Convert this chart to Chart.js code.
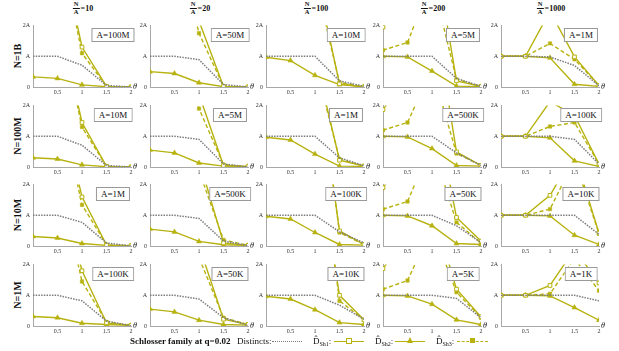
<!DOCTYPE html>
<html>
<head>
<meta charset="utf-8">
<script src="https://cdn.jsdelivr.net/npm/chart.js@4.4.1/dist/chart.umd.min.js"></script>
<style>
    html, body { margin: 0; padding: 0; background: #fff; }
    #fig { position: relative; width: 619px; height: 351px; overflow: hidden; font-family: 'Liberation Serif', 'DejaVu Serif', serif; color: #111; }
    #fig canvas { position: absolute; }
    .ttl { position: absolute; font-weight: bold; font-size: 8px; display: flex; align-items: center; transform: translateX(-50%); white-space: nowrap; }
    .frac { display: inline-flex; flex-direction: column; align-items: center; font-size: 6.5px; line-height: 6.5px; margin-right: 1px; }
    .frac span:first-child { border-bottom: 0.8px solid #111; padding: 0 1px; }
    .rowlbl { position: absolute; font-weight: bold; font-size: 10px; transform: translate(-50%, -50%) rotate(-90deg); white-space: nowrap; }
    .box { position: absolute; transform: translateX(-50%); background: #fff; border: 1.5px solid #999; font-size: 9px; line-height: 12px; padding: 0 4px; white-space: nowrap; }
    .theta { position: absolute; font-style: italic; font-size: 8px; line-height: 8px; }
    .lg { position: absolute; top: 336px; font-size: 9px; line-height: 10px; white-space: nowrap; }
    .lg sub { font-size: 6px; vertical-align: -2px; }
    .smp { position: absolute; top: 341px; height: 0; }
    .mk { position: absolute; box-sizing: border-box; }
</style>
</head>
<body>
<div id="fig"></div>
<script>
'use strict';

const theta = [0, 0.5, 1, 1.5, 2];
const xTicks = [0.5, 1, 1.5, 2];
const yTickLabels = ['0', 'A', '2A'];
const colRatios = ['10', '20', '100', '200', '1000'];
const rowNames = ['N=1B', 'N=100M', 'N=10M', 'N=1M'];
const sizeLabels = [
    ['A=100M', 'A=50M', 'A=10M', 'A=5M', 'A=1M'],
    ['A=10M', 'A=5M', 'A=1M', 'A=500K', 'A=100K'],
    ['A=1M', 'A=500K', 'A=100K', 'A=50K', 'A=10K'],
    ['A=100K', 'A=50K', 'A=10K', 'A=5K', 'A=1K'],
];

// values in units of A, one row per N, one array per N/A column
const distincts = [
    [[1, 1, 0.71, 0.05, 0], [1, 1, 0.89, 0.08, 0], [1, 1, 1, 0.2, 0.02], [1, 1, 1, 0.28, 0.02], [1, 1, 0.98, 0.7, 0.04]],
    [[1, 1, 0.71, 0.05, 0], [1, 1, 0.9, 0.1, 0], [1, 1, 1, 0.3, 0.04], [1, 1, 1, 0.46, 0.05], [1, 1, 1, 0.9, 0.1]],
    [[1, 1, 0.77, 0.1, 0], [1, 1, 0.9, 0.16, 0.01], [1, 1, 1, 0.46, 0.1], [1, 1, 1, 0.66, 0.11], [1, 1, 1, 1, 0.38]],
    [[1, 1, 0.82, 0.16, 0.01], [1, 1, 0.88, 0.27, 0.02], [1, 1, 1, 0.68, 0.22], [1, 1, 1, 0.9, 0.27], [1, 1, 1, 1, 0.82]],
];
const sh1 = [
    [[9, 5, 1.3, 0.02, 0], [10, 6, 2.15, 0.02, 0], [12, 8, 3.8, 0.1, 0], [1.95, 3, 5, 0.2, 0.02], [1, 1, 2.47, 0.98, 0.05]],
    [[9, 5, 1.45, 0.02, 0], [10, 6, 2.37, 0.05, 0.01], [12, 8, 3.6, 0.22, 0.03], [1.87, 3, 5.5, 0.49, 0.05], [1, 1, 2.13, 1.68, 0.1]],
    [[9, 5, 1.6, 0.03, 0.01], [10, 6, 2.8, 0.1, 0.02], [14, 10, 6.3, 0.49, 0.05], [1.9, 3, 5, 0.93, 0.16], [1, 1, 1.65, 3, 0.42]],
    [[9, 5, 1.8, 0.1, 0.02], [10, 6, 2.62, 0.22, 0.05], [14, 10, 6, 1.0, 0.2], [1.87, 3, 3.9, 1.2, 0.3], [1, 1, 1.32, 2.5, 1.4]],
];
const sh2 = [
    [[0.33, 0.28, 0.07, 0.01, 0], [0.5, 0.44, 0.14, 0.01, 0], [0.97, 0.86, 0.38, 0.08, 0.01], [1, 0.98, 0.52, 0.03, 0.01], [1, 1, 0.95, 0.09, 0.02]],
    [[0.3, 0.26, 0.07, 0.01, 0], [0.55, 0.46, 0.13, 0.03, 0.02], [0.97, 0.88, 0.42, 0.03, 0.02], [1, 0.98, 0.6, 0.05, 0.03], [1, 1, 0.95, 0.2, 0.02]],
    [[0.31, 0.26, 0.08, 0.02, 0.01], [0.55, 0.46, 0.15, 0.04, 0.02], [0.97, 0.88, 0.44, 0.05, 0.03], [1, 0.98, 0.66, 0.08, 0.05], [1, 1, 0.98, 0.35, 0.05]],
    [[0.31, 0.27, 0.09, 0.05, 0.02], [0.55, 0.46, 0.19, 0.05, 0.03], [0.97, 0.88, 0.53, 0.11, 0.05], [1, 0.98, 0.71, 0.2, 0.05], [1, 1, 0.98, 0.6, 0.19]],
];
const sh3 = [
    [[8, 5, 1.1, 0.02, 0], [9, 5, 1.75, 0.02, 0], [11, 7, 3.5, 0.15, 0.01], [1.2, 1.45, 3.5, 0.25, 0.02], [1, 1, 1.42, 0.9, 0.05]],
    [[8, 5, 1.3, 0.02, 0], [9, 5, 1.9, 0.08, 0.01], [11, 7, 3.4, 0.26, 0.03], [1.2, 1.45, 3.2, 0.44, 0.05], [1, 1, 1.32, 1.45, 0.1]],
    [[8, 5, 1.34, 0.04, 0.01], [9, 5, 2.45, 0.2, 0.02], [13, 9, 6.5, 0.44, 0.05], [1.2, 1.45, 3.3, 0.77, 0.1], [1, 1, 1.2, 2.8, 0.4]],
    [[8, 5, 1.45, 0.13, 0.02], [9, 5, 2.23, 0.27, 0.05], [13, 9, 7, 0.82, 0.2], [1.2, 1.48, 3.2, 1.1, 0.27], [1, 1, 1.05, 2.2, 1.15]],
];

const OLIVE = '#b7b20f';
const GRAY = '#7c7c7c';
const AXIS = '#a8a8a8';
const FONT = 'Liberation Serif';

const X0 = [33, 150, 266, 383, 501];   // left edge (θ=0) of each column
const Y2A = [25, 105, 184, 264];        // top edge (2A) of each row
const PW = 98, PH = 62;
const YAXW = 22, XAXH = 12, PADT = 6, PADR = 6;

const fig = document.getElementById('fig');

function el(cls, html, css) {
    const d = document.createElement('div');
    d.className = cls;
    d.innerHTML = html;
    Object.assign(d.style, css);
    fig.appendChild(d);
    return d;
}

function pts(vals) {
    return vals.map((v, i) => ({ x: theta[i], y: v }));
}

function makePanel(r, c) {
    const cv = document.createElement('canvas');
    const w = YAXW + PW + PADR, h = PADT + PH + XAXH;
    cv.width = w; cv.height = h;
    cv.style.left = (X0[c] - YAXW) + 'px';
    cv.style.top = (Y2A[r] - PADT) + 'px';
    cv.style.width = w + 'px'; cv.style.height = h + 'px';
    fig.appendChild(cv);

    const tickFont = { family: FONT, size: 6 };
    new Chart(cv, {
        type: 'line',
        data: {
            datasets: [
                { data: pts(distincts[r][c]), borderColor: GRAY, borderWidth: 1.5, borderDash: [1.5, 1.2], pointRadius: 0 },
                { data: pts(sh1[r][c]), borderColor: OLIVE, borderWidth: 1.4, pointStyle: 'rect', pointRadius: 2.6,
                  pointBackgroundColor: '#fff', pointBorderColor: OLIVE, pointBorderWidth: 1 },
                { data: pts(sh2[r][c]), borderColor: OLIVE, borderWidth: 1.4, pointStyle: 'triangle', pointRadius: 3,
                  pointBackgroundColor: OLIVE, pointBorderColor: OLIVE, pointBorderWidth: 0.5 },
                { data: pts(sh3[r][c]), borderColor: OLIVE, borderWidth: 1.4, borderDash: [4, 2.5], pointStyle: 'rect', pointRadius: 2.4,
                  pointBackgroundColor: OLIVE, pointBorderColor: OLIVE, pointBorderWidth: 0.5 },
            ],
        },
        options: {
            responsive: false,
            animation: false,
            events: [],
            layout: { padding: { top: PADT, right: PADR, left: 0, bottom: 0 } },
            plugins: { legend: { display: false }, tooltip: { enabled: false } },
            scales: {
                x: {
                    type: 'linear', min: 0, max: 2,
                    afterFit: (s) => { s.height = XAXH; },
                    afterBuildTicks: (s) => { s.ticks = [0].concat(xTicks).map((v) => ({ value: v })); },
                    grid: { display: false, drawTicks: false },
                    border: { display: true, color: AXIS, width: 1 },
                    ticks: { padding: 2, maxRotation: 0, autoSkip: false, font: tickFont, color: '#333',
                             callback: (v) => (v === 0 ? '' : String(v)) },
                },
                y: {
                    type: 'linear', min: 0, max: 2,
                    afterFit: (s) => { s.width = YAXW; },
                    grid: { display: false, drawTicks: false },
                    border: { display: true, color: AXIS, width: 1 },
                    ticks: { stepSize: 1, padding: 3, font: tickFont, color: '#333',
                             callback: (v) => yTickLabels[v] },
                },
            },
        },
    });

    el('box', sizeLabels[r][c], { left: (X0[c] + 80) + 'px', top: (Y2A[r] + 3) + 'px' });
    el('theta', 'θ', { left: (X0[c] + PW + 2) + 'px', top: (Y2A[r] + PH - 4) + 'px' });
}

colRatios.forEach((q, c) => {
    el('ttl', `<span class="frac"><span>N</span><span>A</span></span>=${q}`, { left: (X0[c] + 50) + 'px', top: '1px' });
});
rowNames.forEach((n, r) => {
    el('rowlbl', n, { left: '17px', top: (Y2A[r] + PH / 2) + 'px' });
});
for (let r = 0; r < rowNames.length; r++) {
    for (let c = 0; c < colRatios.length; c++) makePanel(r, c);
}

// legend
el('lg', '<b>Schlosser family at q=0.02</b>', { left: '130px' });
el('lg', 'Distincts:', { left: '237px' });
el('smp', '', { left: '272px', width: '30px', borderTop: `1.5px dotted ${GRAY}` });
const hatD = (k) => `D&#770;<sub>Sh${k}</sub>:`;
el('lg', hatD(1), { left: '313px' });
el('smp', '', { left: '334px', width: '30px', borderTop: `1.5px solid ${OLIVE}` });
el('mk', '', { left: '346px', top: '338px', width: '6px', height: '6px', background: '#fff', border: `1px solid ${OLIVE}` });
el('lg', hatD(2), { left: '375px' });
el('smp', '', { left: '395px', width: '30px', borderTop: `1.5px solid ${OLIVE}` });
el('mk', '', { left: '407px', top: '337px', width: '0', height: '0', borderLeft: '3px solid transparent', borderRight: '3px solid transparent', borderBottom: `6px solid ${OLIVE}` });
el('lg', hatD(3), { left: '436px' });
el('smp', '', { left: '457px', width: '31px', borderTop: `1.5px dashed ${OLIVE}` });
el('mk', '', { left: '470px', top: '338px', width: '5px', height: '5px', background: OLIVE });
</script>
</body>
</html>
